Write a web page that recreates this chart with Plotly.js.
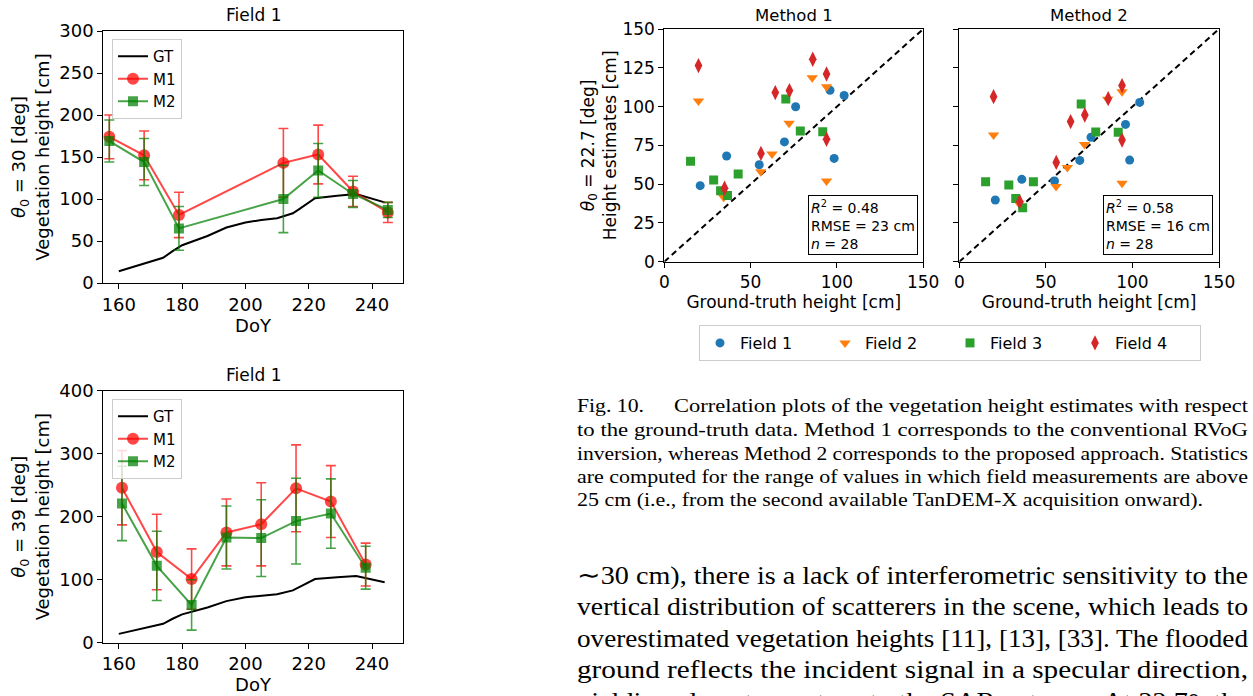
<!DOCTYPE html>
<html><head><meta charset="utf-8">
<script src="https://cdn.plot.ly/plotly-3.0.1.min.js"></script>
<style>html,body{margin:0;padding:0;background:#fff;overflow:hidden;} #chart{width:1253px;height:696px;}</style>
</head><body><div id="chart"></div><script>
// ---------------- DATA ----------------
// Ground truth (Field 1) vegetation height vs DoY
const GT_DOY    = [160,168,174,177,180,188,194,200,205,210,215,217,222,229,235,244];
const GT_HEIGHT = [14, 23, 30, 38, 45, 56, 66, 72, 75, 77, 83, 88, 101,104,106,96];

// theta0 = 30 deg
const DOY_30     = [157,168,179,212,223,234,245];
const M1_30      = [174,152,81,143,153,109,84];
const M1_30_ERR  = [26,29,27,41,35,18,12];
const M2_30      = [169,144,65,100,134,106,87];
const M2_30_ERR  = [25,28,26,40,32,16,9];

// theta0 = 39 deg
const DOY_39     = [161,172,183,194,205,216,227,238];
const M1_39      = [246,144,101,175,188,245,224,124];
const M1_39_ERR  = [59,60,48,53,66,69,57,34];
const M2_39      = [221,122,60,167,166,193,205,119];
const M2_39_ERR  = [59,55,40,50,61,68,55,34];

// Correlation plots (theta0 = 22.7 deg)
const FIELDS = ['Field 1','Field 2','Field 3','Field 4'];
const GT_F1 = [20.8,36.1,55.0,69.6,76.1,96.0,98.4,104.2];
const M1_F1 = [49.0,68.1,62.5,77.2,99.9,110.5,66.6,107.2];
const M2_F1 = [39.8,53.1,52.0,65.3,80.2,88.5,65.5,102.7];
const GT_F2 = [19.8,34.4,55.9,62.4,72.3,85.7,94.0,94.0];
const M1_F2 = [103.6,41.5,58.0,69.4,89.2,118.6,112.8,52.0];
const M2_F2 = [81.7,37.6,48.4,60.8,75.6,104.7,109.6,50.5];
const GT_F3 = [15.2,28.6,32.6,36.6,42.8,70.4,78.8,91.8];
const M1_F3 = [64.7,52.7,45.8,42.6,56.5,104.9,84.2,83.8];
const M2_F3 = [51.6,49.4,40.8,34.8,51.6,101.7,83.6,83.4];
const GT_F4 = [19.8,34.9,56.0,64.3,72.5,86.0,94.0,94.0];
const M1_F4 = [126.4,47.3,69.8,109.0,110.3,130.5,121.0,78.9];
const M2_F4 = [106.4,38.7,64.0,90.3,94.6,105.1,113.5,78.4];
const ONE_TO_ONE = [0,150];
const STAT_R2   = [0.48, 0.58];
const STAT_RMSE = [23, 16];
const STAT_N    = [28, 28];

const CAPTION_HEAD = 'Fig. 10.';
const CAPTION_LINES = [
 'Correlation plots of the vegetation height estimates with respect',
 'to the ground-truth data. Method 1 corresponds to the conventional RVoG',
 'inversion, whereas Method 2 corresponds to the proposed approach. Statistics',
 'are computed for the range of values in which field measurements are above',
 '25 cm (i.e., from the second available TanDEM-X acquisition onward).'
];
const BODY_LINES = [
 '\u223C30 cm), there is a lack of interferometric sensitivity to the',
 'vertical distribution of scatterers in the scene, which leads to',
 'overestimated vegetation heights [11], [13], [33]. The flooded',
 'ground reflects the incident signal in a specular direction,',
 'yielding almost no return to the SAR antenna. At 22.7\u00B0, the'
];

// ---------------- LAYOUT HELPERS ----------------
const W = 1253, H = 696;
const px = v => v / W;
const py = v => 1 - v / H;
const SANS = 'DejaVu Sans';
const SERIF = 'Liberation Serif';

function ax(extra) {
  return Object.assign({
    showline: true, mirror: true, linecolor: '#000', linewidth: 1,
    ticks: 'outside', ticklen: 5, tickwidth: 1, tickcolor: '#000',
    showgrid: false, zeroline: false,
    tickfont: {family: SANS, size: 18, color: '#000'}
  }, extra);
}

const RED = 'rgba(255,0,0,0.72)';
const GREEN = 'rgba(0,128,0,0.72)';
const FIELD_COLORS = ['#1f77b4','#ff7f0e','#2ca02c','#d62728'];
const FIELD_SYMBOLS = ['circle','triangle-down','square','diamond-tall'];
const FIELD_SIZES = [9,10,9,11];

const traces = [];
function timeSeries(doy, m1, m1e, m2, m2e, xa, ya, leg) {
  traces.push({x: GT_DOY, y: GT_HEIGHT, mode: 'lines', name: 'GT',
    line: {color: '#000', width: 2}, xaxis: xa, yaxis: ya, legend: leg});
  traces.push({x: doy, y: m1, mode: 'lines+markers', name: 'M1',
    line: {color: RED, width: 2},
    marker: {symbol: 'circle', size: 12, color: RED},
    error_y: {type: 'data', array: m1e, visible: true, color: RED, thickness: 1.6, width: 5},
    xaxis: xa, yaxis: ya, legend: leg});
  traces.push({x: doy, y: m2, mode: 'lines+markers', name: 'M2',
    line: {color: GREEN, width: 2},
    marker: {symbol: 'square', size: 10, color: GREEN},
    error_y: {type: 'data', array: m2e, visible: true, color: GREEN, thickness: 1.6, width: 5},
    xaxis: xa, yaxis: ya, legend: leg});
}
timeSeries(DOY_30, M1_30, M1_30_ERR, M2_30, M2_30_ERR, 'x', 'y', 'legend');
timeSeries(DOY_39, M1_39, M1_39_ERR, M2_39, M2_39_ERR, 'x2', 'y2', 'legend2');

const GTS = [GT_F1, GT_F2, GT_F3, GT_F4];
const EST = [[M1_F1, M1_F2, M1_F3, M1_F4], [M2_F1, M2_F2, M2_F3, M2_F4]];
['x3','x4'].forEach((xa, m) => {
  const ya = m === 0 ? 'y3' : 'y4';
  traces.push({x: ONE_TO_ONE, y: ONE_TO_ONE, mode: 'lines', showlegend: false,
    line: {color: '#000', width: 2, dash: '6px,4px'}, xaxis: xa, yaxis: ya, hoverinfo: 'skip'});
  FIELDS.forEach((f, i) => {
    traces.push({x: GTS[i], y: EST[m][i], mode: 'markers', name: f,
      marker: {symbol: FIELD_SYMBOLS[i], size: FIELD_SIZES[i], color: FIELD_COLORS[i]},
      showlegend: m === 0, legend: 'legend3', xaxis: xa, yaxis: ya});
  });
});

const LEFT_X = [px(103.3), px(402.7)];
const thetaTitle = (t, l2) => '<i>\u03B8</i><sub>0</sub> = ' + t + ' [deg]<br>' + l2;
const SC_TICK = {family: SANS, size: 17, color: '#000'};

const layout = {
  width: W, height: H, autosize: false,
  margin: {l: 0, r: 0, t: 0, b: 0},
  paper_bgcolor: '#fff', plot_bgcolor: '#fff',
  font: {family: SANS, size: 15, color: '#000'},
  xaxis: ax({domain: LEFT_X, anchor: 'y', range: [155.1, 249.7], tick0: 160, dtick: 20,
    title: {text: 'DoY', font: {family: SANS, size: 18}, standoff: 3}}),
  yaxis: ax({domain: [py(283), py(31)], anchor: 'x', range: [0, 300], dtick: 50,
    title: {text: thetaTitle('30', 'Vegetation height [cm]'), font: {family: SANS, size: 18}, standoff: 5}}),
  xaxis2: ax({domain: LEFT_X, anchor: 'y2', range: [155.1, 249.7], tick0: 160, dtick: 20,
    title: {text: 'DoY', font: {family: SANS, size: 18}, standoff: 3}}),
  yaxis2: ax({domain: [py(642.7), py(390.7)], anchor: 'x2', range: [0, 400], dtick: 100,
    title: {text: thetaTitle('39', 'Vegetation height [cm]'), font: {family: SANS, size: 18}, standoff: 5}}),
  xaxis3: ax({domain: [px(664.3), px(923.2)], anchor: 'y3', range: [0, 150], dtick: 50,
    tickfont: SC_TICK,
    title: {text: 'Ground-truth height [cm]', font: {family: SANS, size: 17}, standoff: 1}}),
  yaxis3: ax({domain: [py(261.7), py(29)], anchor: 'x3', range: [0, 150], dtick: 25,
    tickfont: SC_TICK,
    title: {text: thetaTitle('22.7', 'Height estimates [cm]'), font: {family: SANS, size: 17}, standoff: 1}}),
  xaxis4: ax({domain: [px(959.3), px(1219)], anchor: 'y4', range: [0, 150], dtick: 50,
    tickfont: SC_TICK,
    title: {text: 'Ground-truth height [cm]', font: {family: SANS, size: 17}, standoff: 1}}),
  yaxis4: ax({domain: [py(261.7), py(29)], anchor: 'x4', range: [0, 150], dtick: 25,
    showticklabels: false}),
  legend: {x: px(112), y: py(39), xanchor: 'left', yanchor: 'top',
    bgcolor: 'rgba(255,255,255,0.8)', bordercolor: '#cccccc', borderwidth: 1,
    font: {family: SANS, size: 15, color: '#000'}},
  legend2: {x: px(112), y: py(399), xanchor: 'left', yanchor: 'top',
    bgcolor: 'rgba(255,255,255,0.8)', bordercolor: '#cccccc', borderwidth: 1,
    font: {family: SANS, size: 15, color: '#000'}},
  legend3: {orientation: 'h', x: px(950), y: py(343), xanchor: 'center', yanchor: 'middle',
    bgcolor: '#fff', bordercolor: '#cccccc', borderwidth: 1, entrywidth: 80,
    font: {family: SANS, size: 16, color: '#000'}},
  showlegend: true,
  annotations: []
};

// subplot titles
[['Field 1', (103.3 + 402.7) / 2, 15, 17], ['Field 1', (103.3 + 402.7) / 2, 375, 17],
 ['Method 1', (664.3 + 923.2) / 2, 15, 16.5], ['Method 2', (959.3 + 1219) / 2, 15, 16.5]].forEach(t => {
  layout.annotations.push({text: t[0], xref: 'paper', yref: 'paper', x: px(t[1]), y: py(t[2]),
    xanchor: 'center', yanchor: 'middle', showarrow: false, font: {family: SANS, size: t[3], color: '#000'}});
});
// stats boxes
['x3', 'x4'].forEach((xa, m) => {
  const ya = m === 0 ? 'y3' : 'y4';
  layout.annotations.push({
    text: '<i>R</i><sup>2</sup> = ' + STAT_R2[m].toFixed(2) + '<br>RMSE = ' + STAT_RMSE[m] + ' cm<br><i>n</i> = ' + STAT_N[m],
    xref: xa + ' domain', yref: ya + ' domain', x: 0.978, y: 0.028, xanchor: 'right', yanchor: 'bottom',
    align: 'left', showarrow: false, bgcolor: '#fff', bordercolor: '#000', borderwidth: 1, borderpad: 2,
    font: {family: SANS, size: 14, color: '#000'}
  });
});

// caption & body text (justified via textLength after render)
const stretch = {};
function textLine(txt, x0, w, yc, size) {
  stretch[layout.annotations.length] = w;
  layout.annotations.push({text: txt, xref: 'paper', yref: 'paper', x: px(x0), y: py(yc),
    xanchor: 'left', yanchor: 'middle', align: 'left', showarrow: false,
    font: {family: SERIF, size: size, color: '#000'}});
}
const CAP_Y = [405, 429, 453, 476.5, 500];
textLine(CAPTION_HEAD, 575, 67, CAP_Y[0], 19.5);
textLine(CAPTION_LINES[0], 672, 574, CAP_Y[0], 19.5);
for (let i = 1; i < 4; i++) textLine(CAPTION_LINES[i], 575, 671, CAP_Y[i], 19.5);
textLine(CAPTION_LINES[4], 575, 626, CAP_Y[4], 19.5);
const BODY_Y = [575, 606.5, 638, 669.5, 701];
BODY_LINES.forEach((l, i) => textLine(l, 575, 671, BODY_Y[i], 26));

Plotly.newPlot('chart', traces, layout, {staticPlot: true, displayModeBar: false}).then(() => {
  document.querySelectorAll('#chart .annotation').forEach(g => {
    const idx = +g.getAttribute('data-index');
    if (stretch[idx] !== undefined) {
      const t = g.querySelector('text.annotation-text');
      if (t) { t.setAttribute('textLength', stretch[idx]); t.setAttribute('lengthAdjust', 'spacingAndGlyphs'); }
    }
  });
});
</script></body></html>
